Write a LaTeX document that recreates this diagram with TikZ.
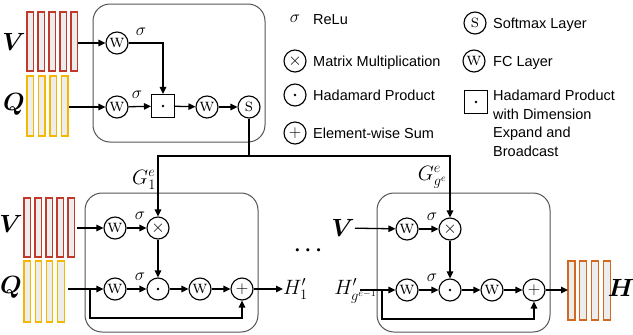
\documentclass[tikz,border=0pt]{standalone}
\usepackage{amsmath}
\usepackage{bm}
\usepackage{fontspec}
\newfontfamily\arial{Liberation Sans}
\usetikzlibrary{arrows.meta,shadows}
\definecolor{vred}{HTML}{C0392B}
\definecolor{qyel}{HTML}{F5B800}
\definecolor{horg}{HTML}{D2691E}
\definecolor{boxgray}{HTML}{555555}
\newcommand{\wt}{{\fontsize{18}{18}\selectfont\textsc{w}}}
\newcommand{\st}{{\fontsize{18}{18}\selectfont\textsc{s}}}
\newcommand{\hdot}{\tikz\fill (0,0) circle (1.4pt);}
\begin{document}
\begin{tikzpicture}[x=1pt,y=-1pt,
  op/.style={circle, draw, line width=1.1pt, minimum size=22pt, inner sep=0pt, fill=white,
    drop shadow={shadow xshift=0.8pt, shadow yshift=-0.8pt, opacity=0.2}},
  sqop/.style={rectangle, draw, line width=1.1pt, minimum size=23pt, inner sep=0pt, fill=white,
    drop shadow={shadow xshift=0.8pt, shadow yshift=-0.8pt, opacity=0.2}},
  arr/.style={-{Triangle[length=7pt,width=6.5pt]}, line width=1.3pt},
  ln/.style={line width=1.3pt},
  blk/.style={draw=boxgray, rounded corners=17pt, line width=1pt},
  vbar/.style={draw=vred, fill=gray!14, line width=1.1pt},
  qbar/.style={draw=qyel, fill=gray!14, line width=1.1pt},
  hbar/.style={draw=horg, fill=gray!14, line width=1.1pt},
  mlab/.style={inner sep=0pt, font=\fontsize{20}{20}\selectfont},
  blab/.style={inner sep=0pt, font=\fontsize{23}{23}\selectfont},
  sig/.style={inner sep=0pt, font=\fontsize{19}{19}\selectfont},
  legt/.style={inner sep=0pt, anchor=base west, font=\arial\fontsize{14.5}{18.5}\selectfont},
  opsym/.style={font=\fontsize{18}{18}\selectfont}
]
\useasboundingbox (0,0) rectangle (633,335);

% ---------------- top block ----------------
\foreach \i in {0,...,4} \draw[vbar] (27+11*\i,12) rectangle ++(6.5,59);
\foreach \i in {0,...,3} \draw[qbar] (27+11.5*\i,76) rectangle ++(6.5,60);
\node[blab] (tV) at (14,42) {$\bm{V}$};
\node[blab] (tQ) at (14,104) {$\bm{Q}$};
\draw[blk] (93,4) rectangle (265,142);
\node[op] (tw1) at (117,43) {\wt};
\node[op] (tw2) at (117,107) {\wt};
\node[sqop] (tsq) at (163,106) {\hdot};
\node[op] (tw3) at (207,107) {\wt};
\node[op] (ts) at (249,107) {\st};
\coordinate (tvin) at (78,43);
\coordinate (tqin) at (69,107);
\draw[arr] (tvin) -- (tw1);
\draw[arr] (tw1) -| (tsq);
\draw[arr] (tqin) -- (tw2);
\draw[arr] (tw2) -- (tsq);
\draw[arr] (tsq) -- (tw3);
\draw[arr] (tw3) -- (ts);
\node[sig] at (141,32) {$\sigma$};
\node[sig] at (137,95) {$\sigma$};

% ---------------- bottom block 1 ----------------
\foreach \i in {0,...,4} \draw[vbar] (24+11*\i,198) rectangle ++(6.5,59);
\foreach \i in {0,...,3} \draw[qbar] (24+11.2*\i,261) rectangle ++(6.5,61);
\node[blab] (aV) at (11,224) {$\bm{V}$};
\node[blab] (aQ) at (11,287) {$\bm{Q}$};
\draw[blk] (85,193) rectangle (258,332);
\node[op] (aw1) at (115,228) {\wt};
\node[op, opsym] (ax) at (158,228) {$\times$};
\node[op] (aw2) at (115,289) {\wt};
\node[op] (ad) at (158,289) {\hdot};
\node[op] (aw3) at (200,289) {\wt};
\node[op, opsym] (ap) at (242,289) {$+$};
\node[mlab, anchor=west] (aH) at (283,289) {$H_1'$};
\coordinate (avin) at (77,228);
\coordinate (aqin) at (68,289);
\coordinate (ask) at (90,289);
\coordinate (askb) at (90,318);
\draw[arr] (avin) -- (aw1);
\draw[arr] (aw1) -- (ax);
\draw[arr] (ax) -- (ad);
\draw[arr] (aqin) -- (aw2);
\draw[arr] (aw2) -- (ad);
\draw[arr] (ad) -- (aw3);
\draw[arr] (aw3) -- (ap);
\draw[arr] (ap) -- (aH);
\draw[arr] (ask) -- (askb) -| (ap);
\node[sig] at (140,216) {$\sigma$};
\node[sig] at (140,277) {$\sigma$};

% ---------------- bottom block 2 ----------------
\draw[blk] (377,193) rectangle (550,332);
\node[blab] (bV) at (343,228) {$\bm{V}$};
\node[mlab, anchor=east] (bHin) at (377,291) {$H_{g^{e-1}}'$};
\node[op] (bw1) at (407,229) {\wt};
\node[op, opsym] (bx) at (450,229) {$\times$};
\node[op] (bw2) at (407,290) {\wt};
\node[op] (bd) at (450,290) {\hdot};
\node[op] (bw3) at (492,290) {\wt};
\node[op, opsym] (bp) at (534,290) {$+$};
\coordinate (bqin) at (360,290);
\coordinate (bsk) at (382,290);
\coordinate (bskb) at (382,319);
\draw[arr] (bV) -- (bw1);
\draw[arr] (bw1) -- (bx);
\draw[arr] (bx) -- (bd);
\draw[arr] (bqin) -- (bw2);
\draw[arr] (bw2) -- (bd);
\draw[arr] (bd) -- (bw3);
\draw[arr] (bw3) -- (bp);
\draw[arr] (bsk) -- (bskb) -| (bp);
\node[sig] at (432,217) {$\sigma$};
\node[sig] at (432,278) {$\sigma$};
\foreach \i in {0,...,3} \draw[hbar] (568+11.7*\i,261) rectangle ++(7,59);
\coordinate (hin) at (568,290);
\draw[arr] (bp) -- (hin);
\node[blab] (oH) at (621,288) {$\bm{H}$};

% dots
\node[mlab] (dots) at (310,251) {$\bm{\cdots}$};

% ---------------- bus from softmax ----------------
\coordinate (bus) at (249,156);
\draw[ln] (ts) -- (bus);
\draw[arr] (bus) -| (ax);
\draw[arr] (bus) -| (bx);
\node[mlab, anchor=east] (g1) at (156,180) {$G_1^e$};
\node[mlab, anchor=east] (g2) at (447,177) {$G_{g^e}^e$};

% ---------------- legend ----------------
\node[sig] (ls1) at (295,19) {$\sigma$};
\node[legt] at (313,24) {ReLu};
\node[op, opsym] (lx) at (295,61) {$\times$};
\node[legt] at (313,66) {Matrix Multiplication};
\node[op] (ld) at (295,95) {\hdot};
\node[legt] at (313,100) {Hadamard Product};
\node[op, opsym] (lp) at (295,133) {$+$};
\node[legt] at (313,138) {Element-wise Sum};
\node[op] (ls) at (475,23) {\st};
\node[legt] at (493,28) {Softmax Layer};
\node[op] (lw) at (474,61) {\wt};
\node[legt] at (493,66) {FC Layer};
\node[sqop] (lsq) at (476,102) {\hdot};
\node[legt, anchor=north west, align=left] at (493,90) {Hadamard Product\\with Dimension\\Expand and\\Broadcast};
\end{tikzpicture}
\end{document}
